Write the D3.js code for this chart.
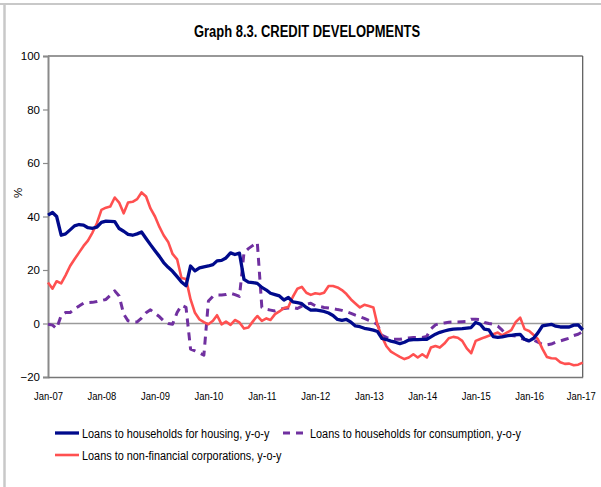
<!DOCTYPE html>
<html><head><meta charset="utf-8">
<script src="https://cdn.jsdelivr.net/npm/d3@7"></script>
<style>body{margin:0;background:#fff} svg{display:block}</style>
</head><body><svg id="c" width="601" height="487"></svg>
<script>
// Monthly values, Jan-07 ... Jan-17 (%, y-o-y)
const housing=[40.5,41.5,40.0,33.0,33.5,35.0,36.5,37.0,36.8,35.8,35.6,36.0,
37.8,38.3,38.2,38.1,35.5,34.5,33.3,33.0,33.5,34.2,31.8,29.5,
27.2,25.0,22.8,21.0,19.5,17.5,15.5,14.1,21.5,19.7,20.8,21.2,
21.5,22.0,23.4,23.6,24.5,26.4,25.8,26.3,16.5,15.5,15.3,15.0,
13.5,12.5,11.3,10.8,10.3,8.8,9.7,8.1,7.8,7.4,6.0,5.0,
5.1,4.8,4.5,3.9,3.0,1.5,1.2,1.5,0.5,-0.9,-1.2,-1.8,
-2.1,-2.5,-3.0,-5.6,-6.0,-6.6,-7.0,-7.5,-7.0,-6.2,-6.0,-6.0,
-5.9,-5.9,-5.0,-4.0,-3.3,-2.8,-2.4,-2.1,-2.0,-1.9,-1.7,-1.5,
0.4,-0.3,-2.1,-2.4,-4.9,-5.2,-5.0,-4.6,-4.4,-4.2,-4.1,-5.9,
-6.5,-5.5,-3.5,-0.9,-0.6,-0.3,-1.0,-1.3,-1.3,-1.3,-0.6,-0.5,
-2.4];
const consumption=[-0.3,-0.6,-1.9,3.0,4.1,4.1,5.5,6.5,7.6,7.8,7.9,8.2,
8.6,9.0,10.5,12.2,10.3,3.5,1.0,0.6,0.6,2.0,4.0,5.1,
3.8,2.5,1.0,0.0,-0.3,4.1,6.8,6.0,-9.6,-10.2,-11.0,-11.8,
8.4,10.2,10.7,10.7,10.8,11.3,10.8,10.1,26.5,28.0,29.2,30.3,
6.0,5.3,5.0,4.7,5.3,5.6,5.8,6.0,5.6,6.5,7.2,7.6,
6.6,6.4,6.0,5.8,5.6,5.2,4.9,4.4,3.8,3.1,2.5,1.9,
1.2,0.6,-0.5,-4.4,-5.2,-5.9,-5.9,-5.9,-5.6,-5.4,-5.2,-5.2,
-5.2,-4.8,-2.0,-0.5,0.0,0.2,0.5,0.6,0.6,0.7,0.8,1.6,
1.6,1.4,0.4,0.0,-0.3,-1.0,-2.5,-4.4,-4.5,-4.7,-5.5,-5.9,
-6.6,-6.2,-7.0,-7.8,-8.0,-7.7,-7.0,-6.5,-6.0,-5.5,-4.5,-4.0,
-3.0];
const corporations=[15.3,13.0,15.8,15.0,18.0,21.5,24.0,26.5,29.0,31.0,34.0,37.5,
42.5,43.3,43.7,47.1,45.2,41.2,45.2,45.5,46.5,49.0,47.5,43.0,
40.0,36.0,33.0,30.5,26.0,24.0,17.0,16.6,9.0,4.0,1.5,0.5,
-0.3,1.0,3.1,-0.3,0.7,-0.5,1.3,0.4,-1.9,-1.5,0.8,2.8,
1.0,1.9,1.3,3.5,4.5,5.8,6.2,10.0,13.0,13.7,11.5,10.7,
11.3,11.0,11.5,14.0,14.0,13.5,12.5,11.0,9.0,7.5,6.0,7.0,
6.5,6.0,-0.5,-5.0,-8.5,-10.5,-11.5,-12.5,-13.3,-12.7,-11.5,-12.7,
-11.5,-12.7,-9.0,-8.4,-9.0,-7.5,-5.5,-5.0,-5.3,-6.5,-9.3,-11.1,
-6.5,-5.8,-5.2,-4.6,-4.0,-3.4,-4.4,-3.4,-2.5,0.5,2.2,-2.1,
-2.8,-4.3,-5.9,-9.5,-12.5,-13.0,-13.1,-14.5,-15.1,-15.0,-15.6,-15.4,
-14.6];
const yTicks=[-20,0,20,40,60,80,100];
const xTickLabels=["Jan-07","Jan-08","Jan-09","Jan-10","Jan-11","Jan-12","Jan-13","Jan-14","Jan-15","Jan-16","Jan-17"];
const seriesNames=["Loans to households for housing, y-o-y","Loans to households for consumption, y-o-y","Loans to non-financial corporations, y-o-y"];
const titleText="Graph 8.3. CREDIT DEVELOPMENTS";

const FONT="'Liberation Sans',Arial,sans-serif";
const NARROW=0.87; // Calibri-like horizontal compression
function squeeze(sel,f){
  sel.each(function(){
    const w=this.getComputedTextLength();
    d3.select(this).attr("textLength",w*f).attr("lengthAdjust","spacingAndGlyphs");
  });
}
const svg=d3.select("#c");
const months=d3.timeMonth.range(new Date(2007,0,1),new Date(2017,0,2));
const tickDates=d3.timeYear.range(new Date(2007,0,1),new Date(2017,0,2));

const L=48,R=582.7,T=56,B=377;
const x=d3.scaleTime().domain([months[0],months[months.length-1]]).range([L,R]);
const y=d3.scaleLinear().domain([-20,100]).range([B,T]);

// outer frame lines
svg.append("line").attr("x1",0).attr("x2",601).attr("y1",4).attr("y2",4).attr("stroke","#c8c8c8").attr("stroke-width",2);
svg.append("line").attr("x1",4.5).attr("x2",4.5).attr("y1",3).attr("y2",487).attr("stroke","#c8c8c8").attr("stroke-width",2.5);

// title
const title=svg.append("text").attr("x",307).attr("y",37).attr("text-anchor","middle")
  .attr("font-family",FONT).attr("font-weight","bold").attr("font-size",16).attr("fill","#000").text(titleText);
squeeze(title,0.81);

// plot border top / right
svg.append("line").attr("x1",L).attr("x2",R).attr("y1",T).attr("y2",T).attr("stroke","#333").attr("stroke-width",1.2);
svg.append("line").attr("x1",R).attr("x2",R).attr("y1",T).attr("y2",B).attr("stroke","#555").attr("stroke-width",1.2);

// zero line
svg.append("line").attr("x1",L).attr("x2",R).attr("y1",y(0)).attr("y2",y(0)).attr("stroke","#9a9a9a").attr("stroke-width",1.5);

// y axis
const yAxis=d3.axisLeft(y).tickValues(yTicks).tickSize(5).tickPadding(3);
const gy=svg.append("g").attr("transform",`translate(${L},0)`).call(yAxis);
gy.select(".domain").attr("stroke","#8a8a8a").attr("stroke-width",2);
gy.selectAll(".tick line").attr("stroke","#8a8a8a").attr("stroke-width",1.2);
gy.selectAll("text").attr("font-family",FONT).attr("font-size",11.5).attr("fill","#000");

// x axis
const xAxis=d3.axisBottom(x).tickValues(tickDates).tickSize(0).tickPadding(15).tickFormat((d,i)=>xTickLabels[i]);
const gx=svg.append("g").attr("transform",`translate(0,${B})`).call(xAxis);
gx.select(".domain").attr("stroke","#777").attr("stroke-width",1.5);
gx.selectAll("text").attr("font-family",FONT).attr("font-size",11.5).attr("fill","#000");
squeeze(gx.selectAll("text"),0.82);
gx.selectAll(".tick").filter((d,i)=>i===xTickLabels.length-1).select("text").attr("dx",-2);

// % label
svg.append("text").attr("transform","translate(22,193) rotate(-90)").attr("text-anchor","middle")
  .attr("font-family",FONT).attr("font-size",11.5).text("%");

const line=d3.line().x((d,i)=>x(months[i])).y(d=>y(d));
const styles=[
 {data:housing,color:"#000A8C",w:3.3,dash:null},
 {data:consumption,color:"#7030A0",w:3,dash:"8,6"},
 {data:corporations,color:"#FF5050",w:2.6,dash:null}
];
const g=svg.append("g");
[styles[1],styles[2],styles[0]].forEach(s=>{
  g.append("path").datum(s.data).attr("d",line).attr("fill","none").attr("stroke",s.color)
   .attr("stroke-width",s.w).attr("stroke-linejoin","round").attr("stroke-dasharray",s.dash);
});

// legend
const leg=[
 {x:55,y:433,s:styles[0],name:seriesNames[0]},
 {x:283,y:433,s:styles[1],name:seriesNames[1]},
 {x:55,y:455,s:styles[2],name:seriesNames[2]}
];
leg.forEach(l=>{
  svg.append("line").attr("x1",l.x).attr("x2",l.x+24).attr("y1",l.y).attr("y2",l.y)
   .attr("stroke",l.s.color).attr("stroke-width",l.s.w).attr("stroke-dasharray",l.s.dash?"7,6":null);
  const t=svg.append("text").attr("x",l.x+27).attr("y",l.y+4.5).attr("font-family",FONT).attr("font-size",12.5).attr("fill","#000").text(l.name);
  squeeze(t,NARROW);
});
</script></body></html>
